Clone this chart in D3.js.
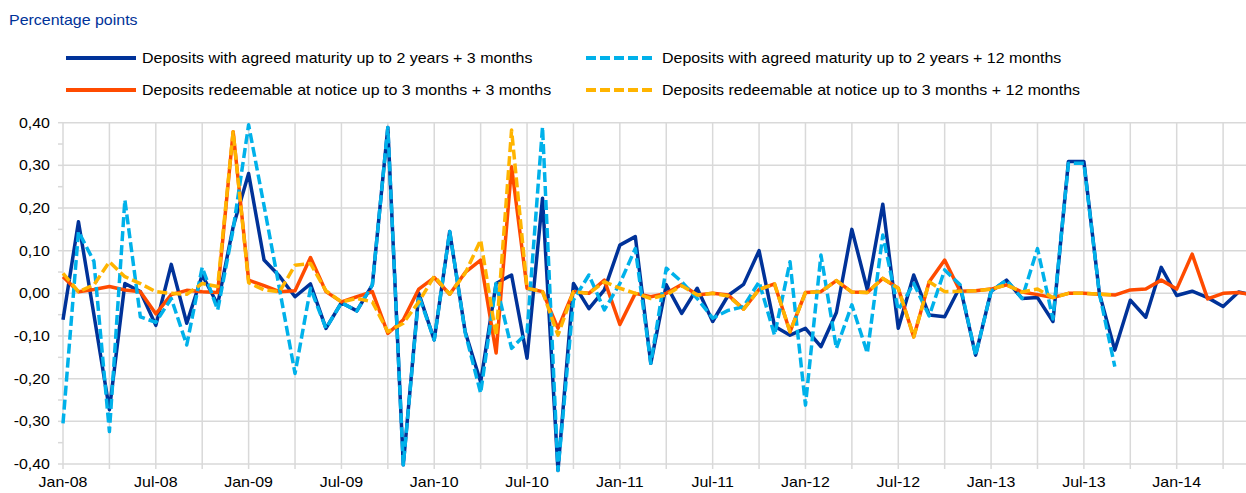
<!DOCTYPE html>
<html>
<head>
<meta charset="utf-8">
<script src="https://cdn.jsdelivr.net/npm/d3@7"></script>
<style>
  body { margin: 0; background: #fff; }
  svg { display: block; font-family: "Liberation Sans", Arial, sans-serif; }
</style>
</head>
<body>
<script>
// monthly observations, Jan-08 onwards
var agreed3m = [-0.062, 0.168, -0.05, -0.273, 0.023, 0.004, -0.075, 0.068, -0.07, 0.043, -0.026, 0.156,
    0.281, 0.078, 0.04, -0.008, 0.022, -0.082, -0.022, -0.041, 0.02, 0.389, -0.402, 0.0,
    -0.109, 0.145, -0.09, -0.208, 0.023, 0.043, -0.152, 0.223, -0.415, 0.023, -0.036, 0.008,
    0.113, 0.133, -0.164, 0.02, -0.047, 0.012, -0.066, -0.005, 0.021, 0.10, -0.077, -0.098,
    -0.082, -0.125, -0.045, 0.15, 0.008, 0.209, -0.082, 0.043, -0.051, -0.055, 0.016, -0.145,
    0.005, 0.031, -0.012, -0.01, -0.066, 0.309, 0.309, 0.0, -0.133, -0.016, -0.056, 0.061,
    -0.005, 0.005, -0.01, -0.031, 0.003, -0.004];

var agreed12m = [-0.305, 0.145, 0.075, -0.324, 0.219, -0.055, -0.068, -0.012, -0.121, 0.061, -0.039, 0.15,
    0.395, 0.205, 0.01, -0.188, 0.012, -0.082, -0.022, -0.041, 0.02, 0.389, -0.402, -0.005,
    -0.109, 0.145, -0.092, -0.234, 0.023, -0.129, -0.092, 0.39, -0.415, -0.016, 0.043, -0.039,
    0.023, 0.105, -0.164, 0.059, 0.027, -0.012, -0.058, -0.04, -0.031, 0.027, -0.098, 0.074,
    -0.262, 0.09, -0.129, -0.027, -0.14, 0.137, -0.039, 0.023, -0.053, 0.055, 0.02, -0.145,
    0.005, 0.031, -0.012, 0.105, -0.06, 0.305, 0.305, 0.0, -0.172];

var notice3m = [0.039, 0.004, 0.009, 0.016, 0.008, 0.004, -0.048, -0.003, 0.007, 0.004, 0.002, 0.379,
    0.031, 0.018, 0.004, 0.006, 0.084, 0.004, -0.02, -0.008, 0.004, -0.094, -0.062, 0.01,
    0.037, -0.002, 0.049, 0.078, -0.14, 0.297, 0.012, 0.004, -0.082, 0.004, 0.0, 0.031,
    -0.073, 0.0, -0.008, 0.0, 0.021, -0.004, 0.0, -0.004, -0.037, 0.009, 0.022, -0.09,
    0.002, 0.004, 0.03, 0.003, 0.002, 0.035, 0.012, -0.102, 0.027, 0.078, 0.005, 0.006,
    0.01, 0.02, 0.003, -0.003, -0.01, 0.0, 0.0, -0.002, -0.004, 0.008, 0.01, 0.031,
    0.01, 0.092, -0.013, 0.0, 0.002, -0.004];

var notice12m = [0.047, 0.004, 0.02, 0.074, 0.039, 0.023, 0.004, 0.0, -0.002, 0.023, 0.016, 0.379,
    0.025, 0.008, 0.004, 0.066, 0.07, 0.006, -0.02, -0.012, -0.02, -0.09, -0.07, -0.02,
    0.04, -0.002, 0.047, 0.125, -0.1, 0.383, 0.012, 0.004, -0.098, 0.004, 0.0, 0.027,
    0.012, 0.0, -0.012, -0.004, 0.018, -0.004, 0.0, -0.006, -0.037, 0.009, 0.022, -0.09,
    0.002, 0.004, 0.03, 0.003, 0.002, 0.035, 0.012, -0.102, 0.027, 0.004, 0.005, 0.006,
    0.01, 0.02, 0.003, 0.01, -0.01, 0.0, 0.0, -0.002, -0.004];

var seriesNames = ["Deposits with agreed maturity up to 2 years + 3 months",
    "Deposits with agreed maturity up to 2 years + 12 months",
    "Deposits redeemable at notice up to 3 months + 3 months",
    "Deposits redeemable at notice up to 3 months + 12 months"];

var yTicks = [-0.4, -0.3, -0.2, -0.1, 0, 0.1, 0.2, 0.3, 0.4];
var xTickLabels = ["Jan-08", "Jul-08", "Jan-09", "Jul-09", "Jan-10", "Jul-10", "Jan-11",
    "Jul-11", "Jan-12", "Jul-12", "Jan-13", "Jul-13", "Jan-14"];

var width = 1246, height = 493;
var textScale = 1.14;

var svg = d3.select("body").append("svg")
    .attr("width", width)
    .attr("height", height);

var x = d3.scaleLinear().domain([0, 72]).range([63, 1176.7]);
var y = d3.scaleLinear().domain([-0.4, 0.4]).range([464, 122.7]);

var fmt = d3.formatLocale({decimal: ",", thousands: ".", grouping: [3], currency: ["", ""], minus: "-"}).format(".2f");

// grid
var grid = svg.append("g");
grid.selectAll(".hg").data(yTicks).enter().append("line")
    .attr("x1", x(0)).attr("x2", width)
    .attr("y1", function(d){ return y(d); }).attr("y2", function(d){ return y(d); })
    .attr("stroke", "#d9d9d9").attr("stroke-width", 1.5);

var vMonths = d3.range(0, 80, 3);
grid.selectAll(".vg").data(vMonths).enter().append("line")
    .attr("x1", function(d){ return x(d); }).attr("x2", function(d){ return x(d); })
    .attr("y1", y(0.4)).attr("y2", y(-0.4) + 5)
    .attr("stroke", "#d9d9d9").attr("stroke-width", 1.5);

// small ticks on the value axis
grid.selectAll(".yt").data(d3.range(-0.4, 0.401, 0.05)).enter().append("line")
    .attr("x1", x(0) - 5).attr("x2", x(0))
    .attr("y1", function(d){ return y(d); }).attr("y2", function(d){ return y(d); })
    .attr("stroke", "#d9d9d9").attr("stroke-width", 1.5);

// tick labels
svg.selectAll(".yl").data(yTicks).enter().append("text")
    .attr("text-anchor", "end")
    .attr("font-size", 14)
    .attr("fill", "#000")
    .attr("transform", function(d){ return "translate(50," + (y(d) + 5) + ") scale(" + textScale + ",1)"; })
    .text(function(d){ return fmt(d); });

svg.selectAll(".xl").data(xTickLabels).enter().append("text")
    .attr("text-anchor", "middle")
    .attr("font-size", 14)
    .attr("fill", "#000")
    .attr("transform", function(d, i){ return "translate(" + x(i * 6) + ",487) scale(" + textScale + ",1)"; })
    .text(function(d){ return d; });

// lines
var line = d3.line()
    .x(function(d, i){ return x(i); })
    .y(function(d){ return y(d); });

var series = [
    {values: agreed3m, color: "#003299", dash: null},
    {values: notice3m, color: "#ff4b00", dash: null},
    {values: agreed12m, color: "#00b1ea", dash: "10,4"},
    {values: notice12m, color: "#ffb400", dash: "10,4"}
];

svg.selectAll(".series").data(series).enter().append("path")
    .attr("d", function(d){ return line(d.values); })
    .attr("fill", "none")
    .attr("stroke", function(d){ return d.color; })
    .attr("stroke-width", 3.5)
    .attr("stroke-linejoin", "round")
    .attr("stroke-dasharray", function(d){ return d.dash; });

// title
svg.append("text")
    .attr("transform", "translate(9,25) scale(" + textScale + ",1)")
    .attr("font-size", 14)
    .attr("fill", "#003299")
    .text("Percentage points");

// legend
var legendItems = [
    {name: seriesNames[0], color: "#003299", dash: null, lx: 66, ly: 58},
    {name: seriesNames[1], color: "#00b1ea", dash: "10,4", lx: 586, ly: 58},
    {name: seriesNames[2], color: "#ff4b00", dash: null, lx: 66, ly: 90},
    {name: seriesNames[3], color: "#ffb400", dash: "10,4", lx: 586, ly: 90}
];

var leg = svg.selectAll(".leg").data(legendItems).enter().append("g");
leg.append("line")
    .attr("x1", function(d){ return d.lx; }).attr("x2", function(d){ return d.lx + 70; })
    .attr("y1", function(d){ return d.ly; }).attr("y2", function(d){ return d.ly; })
    .attr("stroke", function(d){ return d.color; })
    .attr("stroke-width", 4)
    .attr("stroke-dasharray", function(d){ return d.dash; });
leg.append("text")
    .attr("transform", function(d){ return "translate(" + (d.lx + 76) + "," + (d.ly + 5) + ") scale(" + textScale + ",1)"; })
    .attr("font-size", 14)
    .attr("fill", "#000")
    .text(function(d){ return d.name; });
</script>
</body>
</html>
